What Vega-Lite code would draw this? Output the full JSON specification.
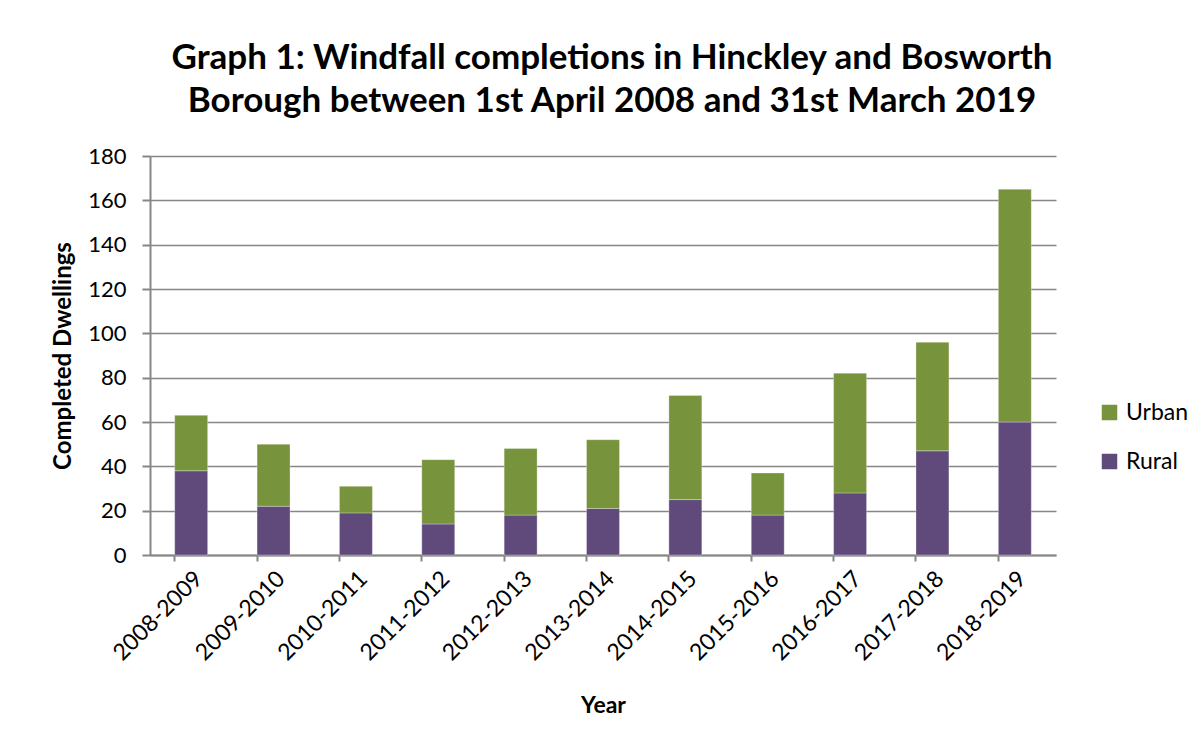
{
  "$schema": "https://vega.github.io/schema/vega-lite/v6.json",
  "autosize": {"type": "none"},
  "width": 906,
  "height": 399,
  "padding": {"left": 150, "top": 156, "right": 146, "bottom": 189},
  "background": "white",
  "title": {
    "text": ["Graph 1: Windfall completions in Hinckley and Bosworth", "Borough between 1st April 2008 and 31st March 2019"],
    "font": "Lato",
    "fontSize": 35,
    "fontWeight": "bold",
    "color": "#000000",
    "anchor": "middle",
    "dx": 9,
    "offset": 26,
    "lineHeight": 43
  },
  "data": {
    "values": [
      {"year": "2008-2009", "type": "Rural", "dwellings": 38},
      {"year": "2008-2009", "type": "Urban", "dwellings": 25},
      {"year": "2009-2010", "type": "Rural", "dwellings": 22},
      {"year": "2009-2010", "type": "Urban", "dwellings": 28},
      {"year": "2010-2011", "type": "Rural", "dwellings": 19},
      {"year": "2010-2011", "type": "Urban", "dwellings": 12},
      {"year": "2011-2012", "type": "Rural", "dwellings": 14},
      {"year": "2011-2012", "type": "Urban", "dwellings": 29},
      {"year": "2012-2013", "type": "Rural", "dwellings": 18},
      {"year": "2012-2013", "type": "Urban", "dwellings": 30},
      {"year": "2013-2014", "type": "Rural", "dwellings": 21},
      {"year": "2013-2014", "type": "Urban", "dwellings": 31},
      {"year": "2014-2015", "type": "Rural", "dwellings": 25},
      {"year": "2014-2015", "type": "Urban", "dwellings": 47},
      {"year": "2015-2016", "type": "Rural", "dwellings": 18},
      {"year": "2015-2016", "type": "Urban", "dwellings": 19},
      {"year": "2016-2017", "type": "Rural", "dwellings": 28},
      {"year": "2016-2017", "type": "Urban", "dwellings": 54},
      {"year": "2017-2018", "type": "Rural", "dwellings": 47},
      {"year": "2017-2018", "type": "Urban", "dwellings": 49},
      {"year": "2018-2019", "type": "Rural", "dwellings": 60},
      {"year": "2018-2019", "type": "Urban", "dwellings": 105}
    ]
  },
  "mark": {"type": "bar", "stroke": "#ffffff", "strokeWidth": 0.5, "strokeOpacity": 0.6},
  "encoding": {
    "x": {
      "field": "year",
      "type": "nominal",
      "sort": null,
      "title": "Year",
      "scale": {"paddingInner": 0.6, "paddingOuter": 0.3},
      "axis": {
        "labelAngle": -45,
        "labelFont": "Lato",
        "labelFontSize": 23,
        "labelColor": "#000000",
        "labelPadding": 6,
        "titleFont": "Lato",
        "titleFontSize": 23,
        "titleFontWeight": "bold",
        "titleColor": "#000000",
        "titlePadding": 30,
        "domainColor": "#868686",
        "domainWidth": 2,
        "tickColor": "#868686",
        "tickWidth": 2,
        "tickSize": 6,
        "bandPosition": 0,
        "grid": false
      }
    },
    "y": {
      "field": "dwellings",
      "type": "quantitative",
      "aggregate": "sum",
      "stack": "zero",
      "title": "Completed Dwellings",
      "scale": {"domain": [0, 180], "nice": false},
      "axis": {
        "values": [0, 20, 40, 60, 80, 100, 120, 140, 160, 180],
        "labelFont": "Lato",
        "labelFontSize": 22,
        "labelColor": "#000000",
        "labelPadding": 16,
        "titleFont": "Lato",
        "titleFontSize": 24,
        "titleFontWeight": "bold",
        "titleColor": "#000000",
        "titlePadding": 12,
        "domainColor": "#868686",
        "domainWidth": 2,
        "tickColor": "#868686",
        "tickWidth": 2,
        "tickSize": 8,
        "grid": true,
        "gridColor": "#868686",
        "gridWidth": 1.5
      }
    },
    "color": {
      "field": "type",
      "type": "nominal",
      "title": null,
      "scale": {"domain": ["Urban", "Rural"], "range": ["#77933C", "#604A7B"]},
      "legend": {
        "orient": "none",
        "legendX": 948,
        "legendY": 245,
        "labelFont": "Lato",
        "labelFontSize": 23,
        "labelColor": "#000000",
        "symbolType": "square",
        "symbolSize": 240,
        "symbolStrokeWidth": 0,
        "rowPadding": 25,
        "labelOffset": 5,
        "padding": 0
      }
    },
    "order": {"field": "type", "sort": "ascending"}
  },
  "config": {
    "view": {"stroke": null},
    "legend": {"direction": "vertical"}
  }
}
